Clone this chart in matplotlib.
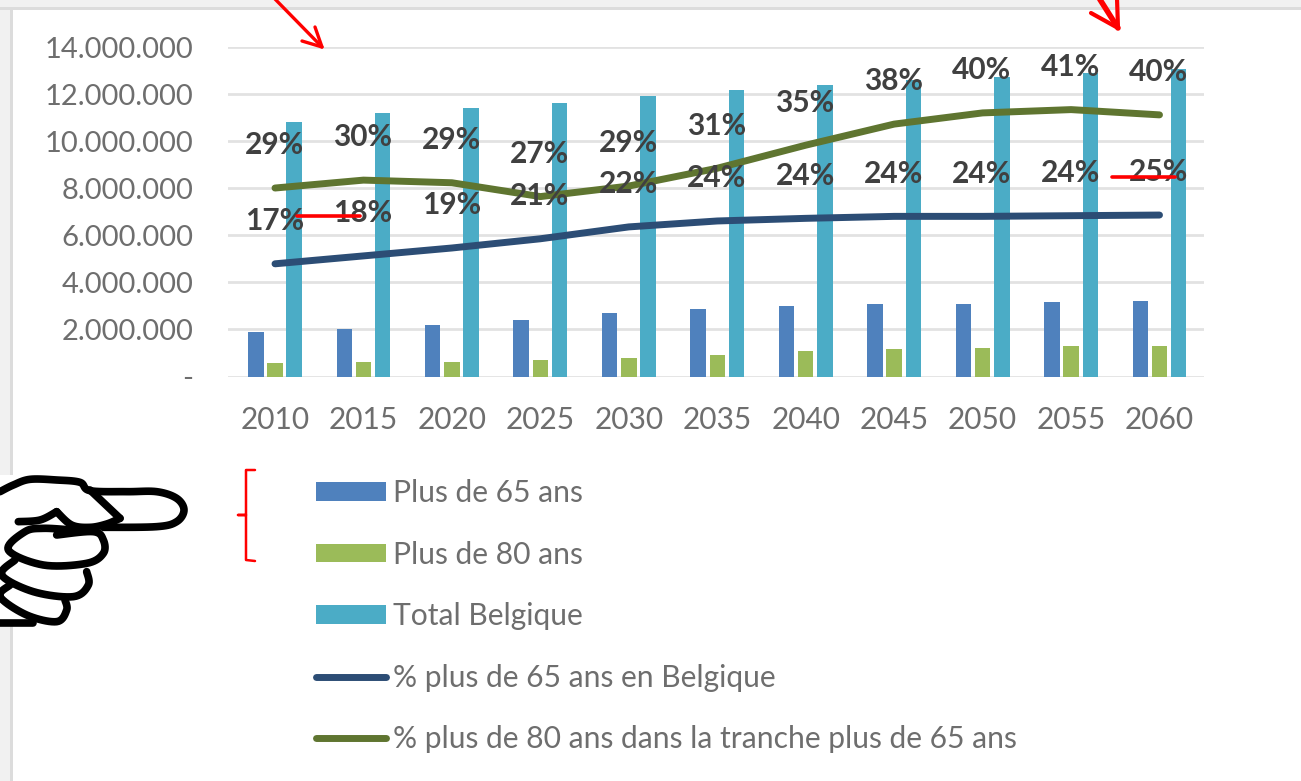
import matplotlib
matplotlib.use("Agg")
import matplotlib.pyplot as plt
from matplotlib.patches import Rectangle
from matplotlib.lines import Line2D
from matplotlib.patches import Patch

plt.rcParams['font.family'] = ['Lato', 'DejaVu Sans']

years = ['2010', '2015', '2020', '2025', '2030', '2035', '2040', '2045', '2050', '2055', '2060']
plus65 = [1890000, 2020000, 2190000, 2400000, 2710000, 2850000, 3000000, 3080000, 3080000, 3160000, 3220000]
plus80 = [560000, 630000, 630000, 700000, 770000, 910000, 1070000, 1150000, 1220000, 1290000, 1290000]
total = [10830000, 11180000, 11420000, 11630000, 11930000, 12170000, 12380000, 12600000, 12740000, 12900000, 13060000]
pct65 = [17.1, 18.3, 19.5, 20.9, 22.7, 23.6, 24.0, 24.3, 24.3, 24.4, 24.5]
pct80 = [28.6, 29.8, 29.4, 27.3, 28.9, 31.6, 35.1, 38.3, 40.0, 40.5, 39.7]
pct65_labels = ['17%', '18%', '19%', '21%', '22%', '24%', '24%', '24%', '24%', '24%', '25%']
pct80_labels = ['29%', '30%', '29%', '27%', '29%', '31%', '35%', '38%', '40%', '41%', '40%']
y_ticks = [0, 2000000, 4000000, 6000000, 8000000, 10000000, 12000000, 14000000]
y_tick_labels = ['-', '2.000.000', '4.000.000', '6.000.000', '8.000.000', '10.000.000', '12.000.000', '14.000.000']
series_names = ['Plus de 65 ans', 'Plus de 80 ans', 'Total Belgique',
                '% plus de 65 ans en Belgique', '% plus de 80 ans dans la tranche plus de 65 ans']

W, H = 1301, 781
C_65, C_80, C_TOT, C_L65, C_L80 = '#4F81BD', '#9BBB59', '#4BACC6', '#2C4D75', '#5F7530'
GREY, DARK = '#6E6E6E', '#404040'

fig = plt.figure(figsize=(W / 100, H / 100), dpi=100, facecolor='white')

# page frame behind the chart
bg = fig.add_axes([0, 0, 1, 1], zorder=0)
bg.set_xlim(0, W); bg.set_ylim(H, 0); bg.axis('off')
bg.add_patch(Rectangle((0, 0), W, 7, fc='#F1F1F1', ec='none'))
bg.add_patch(Rectangle((0, 0), 10, H, fc='#F1F1F1', ec='none'))
bg.add_patch(Rectangle((0, 7), W, 2.5, fc='#DCDCDC', ec='none'))
bg.add_patch(Rectangle((10, 7), 2.5, H, fc='#DCDCDC', ec='none'))

L, R, T, B = 228, 1204, 47, 376.5
ax = fig.add_axes([L / W, 1 - B / H, (R - L) / W, (B - T) / H], zorder=1)
ax.patch.set_alpha(0)
pitch = 88.45
ax.set_xlim(-47 / pitch, (R - L - 47) / pitch)
ax.set_ylim(0, 14000000)
pos = list(range(len(years)))
w, off = 0.175, 0.217
ax.bar([p - off for p in pos], plus65, w, color=C_65, label=series_names[0])
ax.bar(pos, plus80, w, color=C_80, label=series_names[1])
ax.bar([p + off for p in pos], total, w, color=C_TOT, label=series_names[2])
ax.set_yticks(y_ticks, y_tick_labels, fontsize=21, color=GREY)
ax.set_xticks(pos, years, fontsize=21.5, color=GREY)
ax.tick_params(axis='both', length=0)
ax.tick_params(axis='y', pad=25)
ax.tick_params(axis='x', pad=21)
ax.grid(axis='y', color='#E2E2E2', lw=2)
ax.set_axisbelow(True)
for s in ax.spines.values():
    s.set_visible(False)

ax2 = ax.twinx()
ax2.set_zorder(2)
ax2.set_ylim(0, 50)
ax2.axis('off')
for vals, col, labs in ((pct65, C_L65, pct65_labels), (pct80, C_L80, pct80_labels)):
    ax2.plot(pos, vals, color=col, lw=5, solid_capstyle='round', solid_joinstyle='round')
    for p, v, t in zip(pos, vals, labs):
        ax2.annotate(t, (p, v), xytext=(-0.5, 30.7), textcoords='offset points', ha='center', va='center',
                     fontsize=21.5, fontweight='bold', color=DARK, zorder=5)

handles = [Patch(fc=C_65, label=series_names[0]), Patch(fc=C_80, label=series_names[1]),
           Patch(fc=C_TOT, label=series_names[2]),
           Line2D([], [], color=C_L65, lw=5, solid_capstyle='round', label=series_names[3]),
           Line2D([], [], color=C_L80, lw=5, solid_capstyle='round', label=series_names[4])]
leg = fig.legend(handles=handles, loc='upper left', bbox_to_anchor=(316 / W, 1 - 479 / H),
                 bbox_transform=fig.transFigure, frameon=False, fontsize=21.6,
                 borderaxespad=0, borderpad=0, handlelength=2.33, handleheight=0.57,
                 handletextpad=0.25, labelspacing=1.12, labelcolor=GREY)

# hand-drawn annotations in pixel coordinates
ov = fig.add_axes([0, 0, 1, 1], zorder=5)
ov.set_xlim(0, W); ov.set_ylim(H, 0); ov.axis('off')
RED = '#FF0000'
def stroke(pts, color=RED, lw=2.0):
    ov.plot([p[0] for p in pts], [p[1] for p in pts], color=color, lw=lw,
            solid_capstyle='round', solid_joinstyle='round')

stroke([(274, -2), (322, 47)], lw=2.4)
stroke([(302, 41), (322, 47), (315, 27)], lw=2.4)
stroke([(1099, -2), (1118, 28)], lw=4)
stroke([(1091, 13), (1118, 28), (1117, -2)], lw=3)
stroke([(297, 215.7), (360, 215.7)], lw=2.6)
stroke([(1111.5, 177), (1175, 177)], lw=2.6)
stroke([(255, 470), (246, 470), (246, 515), (238, 515), (246, 515), (246, 560), (255, 561)], lw=1.8)

# pointing hand in 3x zoom coordinates
ov.add_patch(Rectangle((0, 475), 190, 150, fc='white', ec='none'))
def z(pts):
    return [(x / 3, 450 + y / 3) for x, y in pts]
def smooth(pts, n=10):
    out = []
    P = [pts[0]] + pts + [pts[-1]]
    for i in range(1, len(P) - 2):
        p0, p1, p2, p3 = P[i - 1], P[i], P[i + 1], P[i + 2]
        for k in range(n):
            t = k / n
            out.append(tuple(0.5 * (2 * p1[a] + (p2[a] - p0[a]) * t
                                    + (2 * p0[a] - 5 * p1[a] + 4 * p2[a] - p3[a]) * t ** 2
                                    + (3 * p1[a] - p0[a] - 3 * p2[a] + p3[a]) * t ** 3) for a in (0, 1)))
    out.append(pts[-1])
    return out
hand = [
    [(0, 125), (40, 105), (90, 88), (170, 90), (240, 97), (270, 122), (380, 125), (470, 125), (530, 145), (552, 180), (530, 215), (470, 230), (310, 232)],
    [(270, 120), (360, 205)],
    [(360, 205), (320, 222), (270, 232), (215, 225), (170, 185)],
    [(170, 185), (120, 210), (55, 215)],
    [(215, 240), (130, 235), (75, 245), (25, 300), (130, 345), (260, 340), (310, 310), (310, 270), (280, 245), (170, 255)],
    [(45, 330), (5, 375), (100, 425), (220, 440), (265, 405), (260, 365)],
    [(30, 405), (0, 440), (80, 495), (170, 515), (200, 480), (195, 450)],
    [(0, 520), (100, 520)],
]
for part in hand:
    stroke(z(smooth(part)), color='black', lw=5.5)

fig.savefig('out.png', dpi=100)
